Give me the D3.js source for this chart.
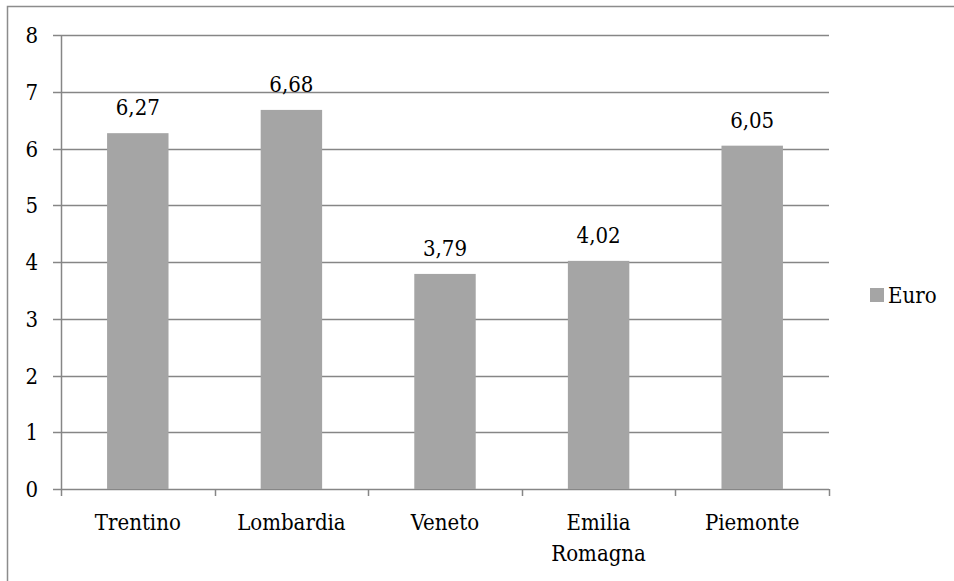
<!DOCTYPE html>
<html>
<head>
<meta charset="utf-8">
<script src="https://cdn.jsdelivr.net/npm/d3@7"></script>
<style>
  body { margin: 0; background: #fff; overflow: hidden; }
  svg { display: block; }
  svg text { font-stretch: condensed; }
</style>
</head>
<body>
<script>
const regions = [['Trentino'], ['Lombardia'], ['Veneto'], ['Emilia', 'Romagna'], ['Piemonte']]
const euro = [6.27, 6.68, 3.79, 4.02, 6.05]
const yTicks = [0, 1, 2, 3, 4, 5, 6, 7, 8]
const seriesName = 'Euro'

const width = 954
const height = 581
const plot = { left: 61, right: 829, top: 35, bottom: 489 }
const gridColor = '#868686'
const barColor = '#a5a5a5'
const font = "'DejaVu Serif Condensed', 'DejaVu Serif'"
const fontSize = 22

const svg = d3.select('body').append('svg')
  .attr('width', width)
  .attr('height', height)

// chart outer frame (runs off the bottom and right)
svg.append('path')
  .attr('d', `M7.5,${height}V6.5H${width}`)
  .attr('fill', 'none')
  .attr('stroke', '#8c8c8c')
  .attr('stroke-width', 1.5)

const names = regions.map(d => d.join(' '))
const xScale = d3.scaleBand()
  .domain(names)
  .range([plot.left, plot.right])
  .paddingInner(0.6)
  .paddingOuter(0.3)
const yScale = d3.scaleLinear()
  .domain([0, 8])
  .range([plot.bottom, plot.top])

// horizontal gridlines + y ticks
svg.append('g')
  .selectAll('line')
  .data(yTicks)
  .enter()
  .append('line')
  .attr('x1', plot.left - 8)
  .attr('x2', plot.right)
  .attr('y1', d => Math.round(yScale(d)) + 0.5)
  .attr('y2', d => Math.round(yScale(d)) + 0.5)
  .attr('stroke', gridColor)
  .attr('stroke-width', 1.5)

svg.append('g')
  .selectAll('text')
  .data(yTicks)
  .enter()
  .append('text')
  .attr('x', 38)
  .attr('y', d => yScale(d) + 8)
  .attr('text-anchor', 'end')
  .attr('font-family', font)
  .attr('font-size', fontSize)
  .text(d => d)

// y axis line
svg.append('line')
  .attr('x1', plot.left + 0.5).attr('x2', plot.left + 0.5)
  .attr('y1', plot.top).attr('y2', plot.bottom)
  .attr('stroke', gridColor)
  .attr('stroke-width', 1.5)

// x ticks at category boundaries
const step = xScale.step()
const boundaries = d3.range(names.length + 1).map(i => plot.left + i * step)
svg.append('g')
  .selectAll('line')
  .data(boundaries)
  .enter()
  .append('line')
  .attr('x1', d => Math.round(d) + 0.5)
  .attr('x2', d => Math.round(d) + 0.5)
  .attr('y1', plot.bottom)
  .attr('y2', plot.bottom + 7)
  .attr('stroke', gridColor)
  .attr('stroke-width', 1.5)

// bars
svg.append('g')
  .selectAll('rect')
  .data(euro)
  .enter()
  .append('rect')
  .attr('x', (d, i) => xScale(names[i]))
  .attr('y', d => yScale(d))
  .attr('width', xScale.bandwidth())
  .attr('height', d => yScale(0) - yScale(d))
  .attr('fill', barColor)

// value labels
svg.append('g')
  .selectAll('text')
  .data(euro)
  .enter()
  .append('text')
  .attr('x', (d, i) => xScale(names[i]) + xScale.bandwidth() / 2)
  .attr('y', d => yScale(d) - 18)
  .attr('text-anchor', 'middle')
  .attr('font-family', font)
  .attr('font-size', fontSize)
  .text(d => d.toFixed(2).replace('.', ','))

// category labels
const catLabels = svg.append('g')
  .selectAll('text')
  .data(regions)
  .enter()
  .append('text')
  .attr('x', (d, i) => xScale(names[i]) + xScale.bandwidth() / 2)
  .attr('y', 530)
  .attr('text-anchor', 'middle')
  .attr('font-family', font)
  .attr('font-size', fontSize)

catLabels.selectAll('tspan')
  .data(d => d)
  .enter()
  .append('tspan')
  .attr('x', function () { return this.parentNode.getAttribute('x') })
  .attr('dy', (d, i) => i === 0 ? 0 : 31)
  .text(d => d)

// legend
const legend = svg.append('g')
legend.append('rect')
  .attr('x', 870).attr('y', 288)
  .attr('width', 14).attr('height', 14)
  .attr('fill', barColor)
legend.append('text')
  .attr('x', 888).attr('y', 303)
  .attr('font-family', font)
  .attr('font-size', fontSize)
  .text(seriesName)
</script>
</body>
</html>
